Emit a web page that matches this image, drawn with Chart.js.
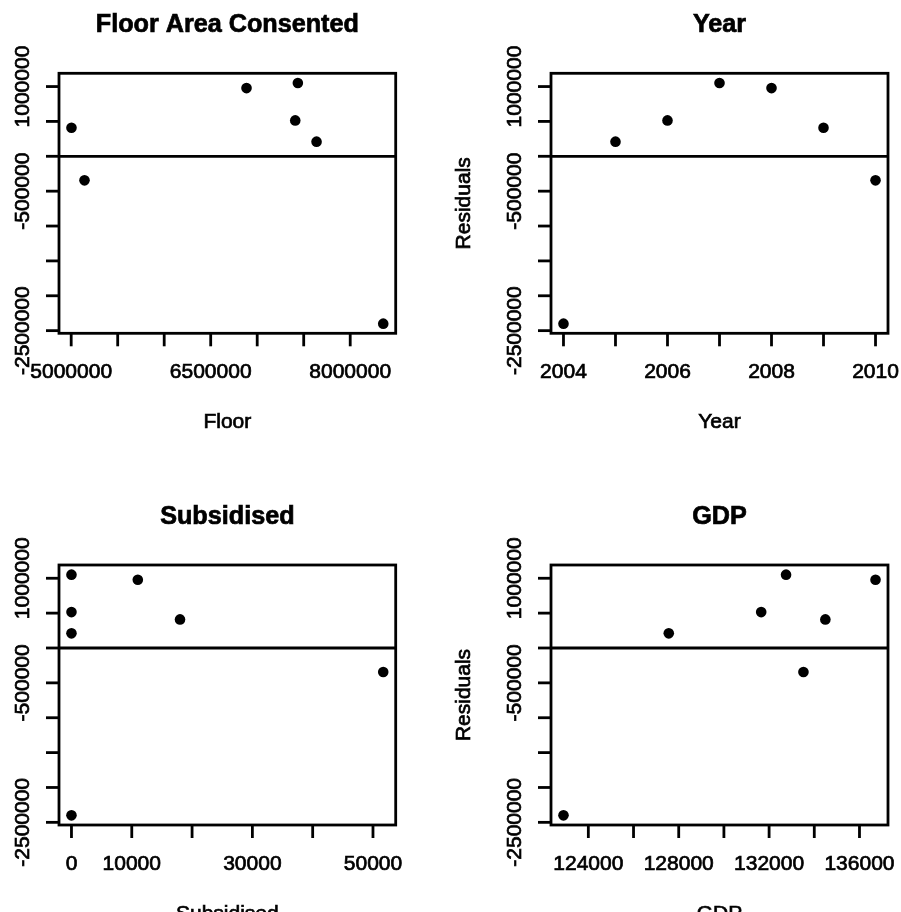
<!DOCTYPE html>
<html>
<head>
<meta charset="utf-8">
<script src="https://cdn.jsdelivr.net/npm/chart.js@4.4.1/dist/chart.umd.min.js"></script>
<style>
    html, body { margin: 0; padding: 0; background: #fff; }
    #wrap { position: relative; width: 901px; height: 912px; overflow: hidden; }
    #wrap canvas { position: absolute; left: 0; top: 0; }
</style>
</head>
<body>
<div id="wrap">
    <canvas id="floorChart" width="901" height="912"></canvas>
    <canvas id="yearChart" width="901" height="912"></canvas>
    <canvas id="subsidisedChart" width="901" height="912"></canvas>
    <canvas id="gdpChart" width="901" height="912"></canvas>
</div>
<script>
/* =================================================================
   Residual plots - one panel per predictor
   ================================================================= */

// Observations (one per year)
const years = [2004, 2005, 2006, 2007, 2008, 2009, 2010];
const residuals = [-2400000, 210000, 515000, 1052000, 978000, 410000, -345000];
const floorArea = [8355000, 7638000, 7409000, 7437000, 6885000, 5003000, 5143000];
const subsidised = [0, 0, 0, 0, 11000, 18000, 51700];
const gdp = [122900, 127560, 131650, 132750, 136710, 134490, 133520];

// Axis ticks and the labels that survive R's overlap check
const residTicks = [-2500000, -2000000, -1500000, -1000000, -500000, 0, 500000, 1000000];
const residTickLabels = ['-2500000', '', '', '', '-500000', '', '', '1000000'];
const floorTicks = [5000000, 5500000, 6000000, 6500000, 7000000, 7500000, 8000000];
const floorTickLabels = ['5000000', '', '', '6500000', '', '', '8000000'];
const yearTicks = [2004, 2005, 2006, 2007, 2008, 2009, 2010];
const yearTickLabels = ['2004', '', '2006', '', '2008', '', '2010'];
const subsTicks = [0, 10000, 20000, 30000, 40000, 50000];
const subsTickLabels = ['0', '10000', '', '30000', '', '50000'];
const gdpTicks = [124000, 126000, 128000, 130000, 132000, 134000, 136000];
const gdpTickLabels = ['124000', '', '128000', '', '132000', '', '136000'];

const FONT = '"Liberation Sans", Arial, Helvetica, sans-serif';
const LINE_W = 2.8;
const TICK_LEN = 13;

// R-style axis range: data range widened by 4% each side
function rRange(values) {
    const lo = Math.min(...values), hi = Math.max(...values);
    const pad = (hi - lo) * 0.04;
    return { min: lo - pad, max: hi + pad };
}

// Text with a thin outline, the reference glyphs are a bit heavy
function heavyText(ctx, text, x, y) {
    ctx.save();
    ctx.lineWidth = 0.7;
    ctx.strokeText(text, x, y);
    ctx.restore();
    ctx.fillText(text, x, y);
}

// Draws box, zero line, ticks, tick labels and titles like base R
const rAxesPlugin = {
    id: 'rAxes',
    afterDatasetsDraw(chart, args, opts) {
        const ctx = chart.ctx;
        const a = chart.chartArea;
        const xs = chart.scales.x, ys = chart.scales.y;
        ctx.save();
        ctx.strokeStyle = '#000';
        ctx.fillStyle = '#000';
        ctx.lineWidth = LINE_W;

        // zero line
        const y0 = ys.getPixelForValue(0);
        ctx.beginPath();
        ctx.moveTo(a.left, y0);
        ctx.lineTo(a.right, y0);
        ctx.stroke();

        // box
        ctx.strokeRect(a.left, a.top, a.right - a.left, a.bottom - a.top);

        // x ticks
        ctx.font = '21px ' + FONT;
        ctx.textAlign = 'center';
        ctx.textBaseline = 'alphabetic';
        opts.xTicks.forEach((v, i) => {
            const px = xs.getPixelForValue(v);
            ctx.beginPath();
            ctx.moveTo(px, a.bottom);
            ctx.lineTo(px, a.bottom + TICK_LEN);
            ctx.stroke();
            if (opts.xLabels[i]) heavyText(ctx, opts.xLabels[i], px, a.bottom + 45);
        });

        // y ticks, labels parallel to the axis
        opts.yTicks.forEach((v, i) => {
            const py = ys.getPixelForValue(v);
            ctx.beginPath();
            ctx.moveTo(a.left, py);
            ctx.lineTo(a.left - TICK_LEN, py);
            ctx.stroke();
            if (opts.yLabels[i]) {
                ctx.save();
                ctx.translate(a.left - 30, py);
                ctx.rotate(-Math.PI / 2);
                heavyText(ctx, opts.yLabels[i], 0, 0);
                ctx.restore();
            }
        });

        const cx = (a.left + a.right) / 2;
        const cy = (a.top + a.bottom) / 2;

        // x axis title
        heavyText(ctx, opts.xTitle, cx, a.bottom + 95);

        // y axis title
        if (opts.yTitle) {
            ctx.save();
            ctx.translate(a.left - 81, cy);
            ctx.rotate(-Math.PI / 2);
            heavyText(ctx, opts.yTitle, 0, 0);
            ctx.restore();
        }

        // main title
        ctx.font = 'bold 25.2px ' + FONT;
        heavyText(ctx, opts.title, cx, a.top - 41.5);
        ctx.restore();
    }
};

// Create one residual panel
function createResidualChart(id, xValues, area, axes) {
    const ctx = document.getElementById(id).getContext('2d');
    const xr = rRange(xValues);
    const yr = rRange(residuals);

    return new Chart(ctx, {
        type: 'scatter',
        data: {
            datasets: [{
                data: xValues.map((x, i) => ({ x: x, y: residuals[i] })),
                pointRadius: 5.3,
                pointBackgroundColor: '#000',
                pointBorderWidth: 0,
                pointHoverRadius: 5.3
            }]
        },
        options: {
            responsive: false,
            animation: false,
            devicePixelRatio: 1,
            layout: {
                padding: {
                    left: area.left,
                    top: area.top,
                    right: 901 - area.right,
                    bottom: 912 - area.bottom
                }
            },
            plugins: {
                legend: { display: false },
                tooltip: { enabled: false },
                rAxes: axes
            },
            scales: {
                x: { type: 'linear', display: false, min: xr.min, max: xr.max },
                y: { type: 'linear', display: false, min: yr.min, max: yr.max }
            }
        },
        plugins: [rAxesPlugin]
    });
}

createResidualChart('floorChart', floorArea,
    { left: 59, top: 73.3, right: 395.7, bottom: 333.3 },
    { title: 'Floor Area Consented', xTitle: 'Floor', yTitle: '',
      xTicks: floorTicks, xLabels: floorTickLabels, yTicks: residTicks, yLabels: residTickLabels });

createResidualChart('yearChart', years,
    { left: 551, top: 73.3, right: 888, bottom: 333.3 },
    { title: 'Year', xTitle: 'Year', yTitle: 'Residuals',
      xTicks: yearTicks, xLabels: yearTickLabels, yTicks: residTicks, yLabels: residTickLabels });

createResidualChart('subsidisedChart', subsidised,
    { left: 59, top: 565, right: 395.7, bottom: 825 },
    { title: 'Subsidised', xTitle: 'Subsidised', yTitle: '',
      xTicks: subsTicks, xLabels: subsTickLabels, yTicks: residTicks, yLabels: residTickLabels });

createResidualChart('gdpChart', gdp,
    { left: 551, top: 565, right: 888, bottom: 825 },
    { title: 'GDP', xTitle: 'GDP', yTitle: 'Residuals',
      xTicks: gdpTicks, xLabels: gdpTickLabels, yTicks: residTicks, yLabels: residTickLabels });
</script>
</body>
</html>
